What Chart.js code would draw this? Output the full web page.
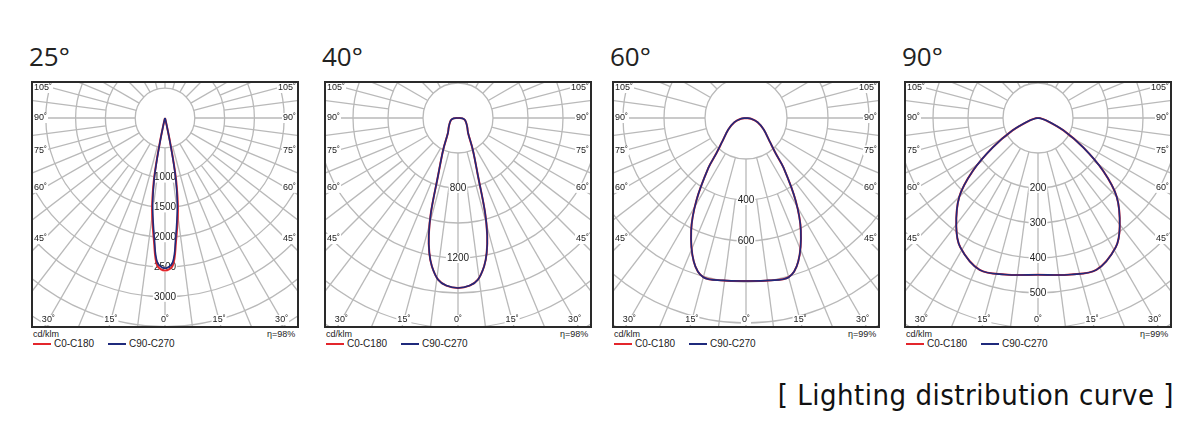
<!DOCTYPE html>
<html><head><meta charset="utf-8">
<script src="https://cdn.jsdelivr.net/npm/chart.js@4"></script>
<style>
body{margin:0;background:#fff;width:1200px;height:441px;position:relative;overflow:hidden;font-family:"Liberation Sans",Arial,sans-serif;}
.t{position:absolute;font-family:"Open Sans","DejaVu Sans",sans-serif;font-size:26px;color:#222;top:38px;}
.c{position:absolute;top:81px;}
.s{position:absolute;font-size:9px;color:#222;}
.lg{position:absolute;top:338px;font-size:10px;color:#222;white-space:nowrap;}
.lg i{display:inline-block;width:18px;height:0;border-top:2px solid;vertical-align:middle;margin-right:3px;}
#cap{position:absolute;right:26px;top:378px;font-family:"DejaVu Sans Condensed","DejaVu Sans",sans-serif;font-size:29px;color:#111;letter-spacing:0.5px}
</style></head><body>
<div id="cap">[ Lighting distribution curve ]</div>
<script>
// ---- data ----
const titles = ["25°", "40°", "60°", "90°"];
const efficiency = ["η=98%", "η=98%", "η=99%", "η=99%"];
const ringStep = [500, 200, 200, 100];
const ringLabels = [
  ["", "1000", "1500", "2000", "2500", "3000"],
  ["", "800", "", "1200"],
  ["", "400", "600"],
  ["", "200", "300", "400", "500"]
];
const angleLabelsSide = [105, 90, 75, 60, 45];
const angleLabelsBottom = [30, 15, 0, 15, 30];
const seriesNames = ["C0-C180", "C90-C270"];

const angles1 = [0, 3, 5, 8, 10, 11, 12, 13, 15, 20, 90];
const c0_1   = [2560, 2480, 2100, 1560, 1100, 750, 380, 130, 30, 0, 0];
const c90_1  = [2520, 2430, 2040, 1490, 1040, 690, 340, 110, 25, 0, 0];

const angles2 = [0, 4, 7, 10, 12, 14, 16, 19, 25, 34, 45, 59, 75, 85, 90];
const c0_2   = [971, 960, 931, 860, 788, 690, 560, 352, 200, 103, 75, 55, 40, 25, 0];
const c90_2  = [971, 960, 931, 860, 788, 690, 560, 352, 200, 103, 75, 55, 40, 25, 0];

const angles3 = [0, 8, 15, 20, 26, 31, 37, 40, 45, 57, 70, 82, 90];
const c0_3   = [795, 800, 804, 745, 610, 470, 305, 225, 165, 103, 60, 25, 0];
const c90_3  = [795, 800, 804, 745, 610, 470, 305, 225, 165, 103, 60, 25, 0];

const angles4 = [0, 12, 21, 31, 37, 45, 51, 57, 64, 73, 82, 90];
const c0_4   = [448, 457, 465, 431, 388, 318, 239, 154, 81, 27, 8, 0];
const c90_4  = [448, 457, 465, 431, 388, 318, 239, 154, 81, 27, 8, 0];

const panelAngles = [angles1, angles2, angles3, angles4];
const panelC0 = [c0_1, c0_2, c0_3, c0_4];
const panelC90 = [c90_1, c90_2, c90_3, c90_4];

// ---- layout ----
const boxLeft = [31, 324, 612, 904];
const ringPx = [29.8, 35, 41, 35];
const BW = 268, BH = 247, CY = 37;

function toXY(angs, vals){
  const pts = [];
  for (let i = angs.length - 1; i >= 0; i--) {
    const a = -angs[i] * Math.PI / 180;
    pts.push({x: vals[i] * Math.sin(a), y: -vals[i] * Math.cos(a)});
  }
  for (let i = 1; i < angs.length; i++) {
    const a = angs[i] * Math.PI / 180;
    pts.push({x: vals[i] * Math.sin(a), y: -vals[i] * Math.cos(a)});
  }
  return pts;
}

function labelBox(ctx, txt, x, y, align){
  ctx.textAlign = align; ctx.textBaseline = 'middle';
  const w = ctx.measureText(txt).width;
  let lx = align === 'center' ? x - w/2 : (align === 'left' ? x : x - w);
  ctx.fillStyle = '#fff'; ctx.fillRect(lx - 1, y - 5, w + 2, 10);
  ctx.fillStyle = '#222'; ctx.fillText(txt, x, y);
}

titles.forEach((t, p) => {
  const L = boxLeft[p];
  const d = document.createElement('div'); d.className = 't'; d.style.left = (L - 2) + 'px'; d.textContent = t; document.body.appendChild(d);
  const u = document.createElement('div'); u.className = 's'; u.style.left = (L + 2) + 'px'; u.style.top = '329px'; u.textContent = 'cd/klm'; document.body.appendChild(u);
  const e = document.createElement('div'); e.className = 's'; e.style.left = (L + BW - 32) + 'px'; e.style.top = '329px'; e.textContent = efficiency[p]; document.body.appendChild(e);
  const lg = document.createElement('div'); lg.className = 'lg'; lg.style.left = (L + 2) + 'px';
  lg.innerHTML = '<i style="border-color:#e3262c"></i>' + seriesNames[0] + '<span style="display:inline-block;width:14px"></span><i style="border-color:#1f2a7c"></i>' + seriesNames[1];
  document.body.appendChild(lg);

  const cv = document.createElement('canvas'); cv.className = 'c'; cv.style.left = L + 'px';
  cv.width = BW; cv.height = BH; cv.style.width = BW + 'px'; cv.style.height = BH + 'px';
  document.body.appendChild(cv);
  const s = ringPx[p] / ringStep[p];

  const grid = {
    id: 'grid' + p,
    beforeDatasetsDraw(chart){
      const ctx = chart.ctx, xs = chart.scales.x, ys = chart.scales.y, ca = chart.chartArea;
      const cx = xs.getPixelForValue(0), cy = ys.getPixelForValue(0);
      const unit = xs.getPixelForValue(ringStep[p]) - cx;
      ctx.save();
      ctx.beginPath(); ctx.rect(ca.left, ca.top, ca.right - ca.left, ca.bottom - ca.top); ctx.clip();
      ctx.strokeStyle = '#b9b9b9'; ctx.lineWidth = 1.3;
      for (let k = 1; k < 14; k++) { ctx.beginPath(); ctx.arc(cx, cy, unit * k, 0, Math.PI * 2); ctx.stroke(); }
      for (let a = 0; a < 360; a += 7.5) {
        const r = a * Math.PI / 180;
        const r0 = (a % 15 === 0) ? unit : unit * 2;
        ctx.beginPath();
        ctx.moveTo(cx + r0 * Math.sin(r), cy + r0 * Math.cos(r));
        ctx.lineTo(cx + 600 * Math.sin(r), cy + 600 * Math.cos(r));
        ctx.stroke();
      }
      ctx.font = '9px "Liberation Sans", Arial, sans-serif';
      const hw = (ca.right - ca.left) / 2 - 13;
      angleLabelsSide.forEach(a => {
        const r = a * Math.PI / 180;
        let y = cy + hw / Math.tan(r);
        if (y < ca.top + 7) y = ca.top + 7;
        labelBox(ctx, a + '˚', ca.left + 3, y, 'left');
        labelBox(ctx, a + '˚', ca.right - 3, y, 'right');
      });
      const by = ca.bottom - 8;
      angleLabelsBottom.forEach((a, i) => {
        const r = a * Math.PI / 180;
        let x = cx + (i < 2 ? -1 : 1) * (by - cy) * Math.tan(r);
        x = Math.max(ca.left + 12, Math.min(ca.right - 12, x));
        labelBox(ctx, a + '˚', x, by, 'center');
      });
      ctx.font = '10px "Liberation Sans", Arial, sans-serif';
      ringLabels[p].forEach((t, k) => { if (t) labelBox(ctx, t, cx, cy + unit * (k + 1), 'center'); });
      ctx.restore();
    },
    afterDraw(chart){
      const ctx = chart.ctx, ca = chart.chartArea;
      ctx.save(); ctx.strokeStyle = '#2a2a2a'; ctx.lineWidth = 2;
      ctx.strokeRect(ca.left + 1, ca.top + 1, ca.right - ca.left - 2, ca.bottom - ca.top - 2);
      ctx.restore();
    }
  };

  new Chart(cv, {
    type: 'scatter',
    data: { datasets: [
      { label: seriesNames[0], order: 1, data: toXY(panelAngles[p], panelC0[p]), showLine: true, borderColor: '#e3262c', borderWidth: 2, pointRadius: 0, tension: 0.35, clip: 0 },
      { label: seriesNames[1], order: 0, data: toXY(panelAngles[p], panelC90[p]), showLine: true, borderColor: '#1f2a7c', borderWidth: 1.6, pointRadius: 0, tension: 0.35, clip: 0 }
    ]},
    options: {
      responsive: false, animation: false, devicePixelRatio: 1,
      layout: { padding: 0 },
      plugins: { legend: { display: false }, tooltip: { enabled: false } },
      scales: {
        x: { type: 'linear', display: false, min: -(BW / 2) / s, max: (BW / 2) / s },
        y: { type: 'linear', display: false, min: -(BH - CY) / s, max: CY / s }
      }
    },
    plugins: [grid]
  });
});
</script>
</body></html>
